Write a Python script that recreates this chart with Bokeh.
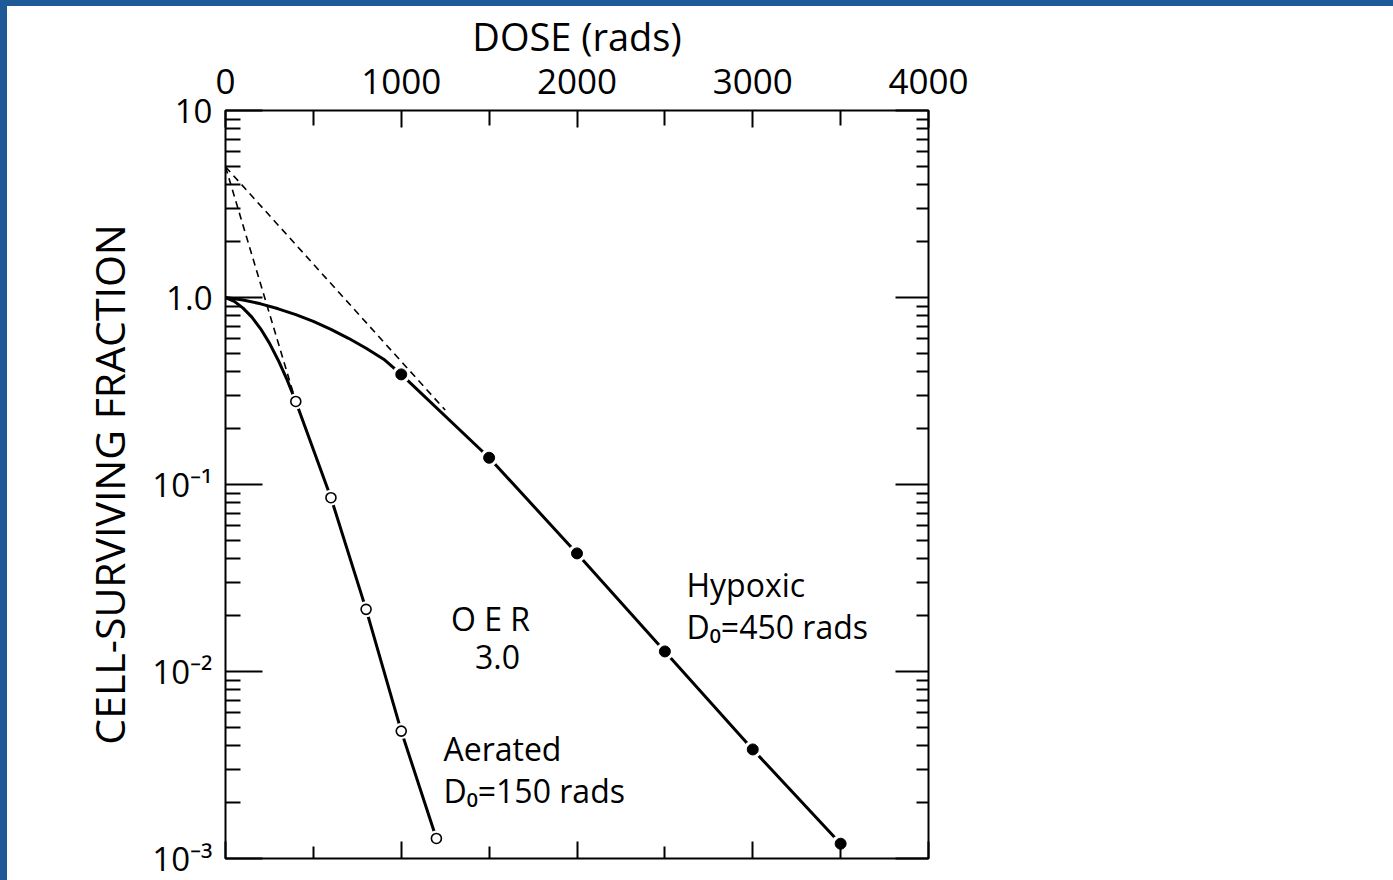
from bokeh.plotting import figure
from bokeh.models import (Range1d, LinearAxis, LogAxis, FixedTicker, Label, Div)
from bokeh.layouts import column, row
from bokeh.embed import file_html
from bokeh.resources import INLINE

# ---- data -------------------------------------------------------------
# measured surviving fractions
aerated_dose = [400, 600, 800, 1000, 1200]
aerated_surv = [0.278, 0.085, 0.0215, 0.0048, 0.00128]
hypoxic_dose = [1000, 1500, 2000, 2500, 3000, 3500]
hypoxic_surv = [0.388, 0.139, 0.0428, 0.0128, 0.00383, 0.0012]

# fitted survival curves (shoulder traced, then through the points)
aerated_curve_dose = [0, 50, 100, 150, 200, 250, 300, 350, 400,
                      600, 800, 1000, 1200]
aerated_curve_surv = [1.0, 0.953, 0.877, 0.785, 0.68, 0.57, 0.462, 0.364, 0.278,
                      0.085, 0.0215, 0.0048, 0.00128]
hypoxic_curve_dose = [0, 100, 200, 300, 400, 500, 600, 700, 800, 900, 1000,
                      1500, 2000, 2500, 3000, 3500]
hypoxic_curve_surv = [1.0, 0.97, 0.925, 0.87, 0.81, 0.745, 0.675, 0.605, 0.535, 0.468, 0.388,
                      0.139, 0.0428, 0.0128, 0.00383, 0.0012]

# back-extrapolation of the exponential parts
aerated_extrap_dose = [0, 400]
aerated_extrap_surv = [5.0, 0.278]
hypoxic_extrap_dose = [0, 1250]
hypoxic_extrap_surv = [5.0, 0.25]

# axes
x_tick_values = [0, 1000, 2000, 3000, 4000]
x_tick_labels = ["0", "1000", "2000", "3000", "4000"]
x_minor_values = [500, 1500, 2500, 3500]
y_tick_values = [0.001, 0.01, 0.1, 1.0, 10.0]
y_tick_labels = ["10\u207b\u00b3", "10\u207b\u00b2", "10\u207b\u00b9", "1.0", "10"]
y_minor_values = [m * d for d in (0.001, 0.01, 0.1, 1.0) for m in range(2, 10)]

FONT = "Open Sans"
INK = "black"

p = figure(frame_width=703, frame_height=748,
           x_range=Range1d(0, 4000), y_range=Range1d(0.001, 10),
           y_axis_type="log", x_axis_location="above",
           output_backend="svg", toolbar_location=None,
           min_border_left=218, min_border_right=465,
           min_border_top=104, min_border_bottom=22,
           background_fill_color="white", border_fill_color="white",
           outline_line_color=INK, outline_line_width=2)
p.grid.visible = False


def style_axis(ax, major_in, minor_in):
    ax.major_tick_in = major_in
    ax.major_tick_out = 0
    ax.minor_tick_in = minor_in
    ax.minor_tick_out = 0
    ax.major_tick_line_color = INK
    ax.minor_tick_line_color = INK
    ax.major_tick_line_width = 2
    ax.minor_tick_line_width = 2
    ax.axis_line_color = None
    ax.major_label_text_font = FONT
    ax.major_label_text_color = INK
    ax.axis_label_text_font = FONT
    ax.axis_label_text_font_style = "normal"
    ax.axis_label_text_color = INK


# top axis: dose
top = p.xaxis[0]
top.ticker = FixedTicker(ticks=x_tick_values, minor_ticks=x_minor_values)
style_axis(top, 17, 15)
top.major_label_overrides = dict(zip(x_tick_values, x_tick_labels))
top.major_label_text_font_size = "35px"
top.major_label_standoff = 17
top.axis_label = "DOSE (rads)"
top.axis_label_text_font_size = "38px"
top.axis_label_standoff = 4

# left axis: surviving fraction
left = p.yaxis[0]
left.ticker = FixedTicker(ticks=y_tick_values, minor_ticks=y_minor_values)
style_axis(left, 37, 15)
left.major_label_overrides = dict(zip(y_tick_values, y_tick_labels))
left.major_label_text_font_size = "33px"
left.major_label_standoff = 13
left.axis_label = "CELL-SURVIVING FRACTION"
left.axis_label_text_font_size = "41px"
left.axis_label_standoff = 12

# bottom and right: ticks only
bottom = LinearAxis(ticker=FixedTicker(ticks=x_tick_values, minor_ticks=x_minor_values))
style_axis(bottom, 17, 12)
bottom.major_label_overrides = {v: "" for v in x_tick_values}
p.add_layout(bottom, "below")

right = LogAxis(ticker=FixedTicker(ticks=y_tick_values, minor_ticks=y_minor_values))
style_axis(right, 33, 12)
right.major_label_overrides = {v: "" for v in y_tick_values}
p.add_layout(right, "right")

# ---- curves -----------------------------------------------------------
p.line(aerated_curve_dose, aerated_curve_surv, line_color=INK, line_width=3)
p.line(hypoxic_curve_dose, hypoxic_curve_surv, line_color=INK, line_width=3)

# white halos break the curves around each point
p.scatter(aerated_dose, aerated_surv, size=16, fill_color="white", line_color=None)
p.scatter(hypoxic_dose, hypoxic_surv, size=18, fill_color="white", line_color=None)

p.line(aerated_extrap_dose, aerated_extrap_surv, line_color=INK, line_width=1.6,
       line_dash="7 5")
p.line(hypoxic_extrap_dose, hypoxic_extrap_surv, line_color=INK, line_width=1.6,
       line_dash="7 5")

p.scatter(aerated_dose, aerated_surv, size=10, fill_color="white",
          line_color=INK, line_width=1.6)
p.scatter(hypoxic_dose, hypoxic_surv, size=11, fill_color=INK, line_color=INK)

# ---- annotations ------------------------------------------------------
def note(x, y, text, align="left"):
    p.add_layout(Label(x=x, y=y, text=text, text_font=FONT,
                       text_font_size="32px", text_color=INK,
                       text_align=align, text_baseline="middle"))


note(1508, 0.0192, "O E R", "center")
note(1548, 0.0119, "3.0", "center")
note(2623, 0.0292, "Hypoxic")
note(2623, 0.0174, "D\u2080=450 rads")
note(1240, 0.00387, "Aerated")
note(1240, 0.00231, "D\u2080=150 rads")

# ---- page -------------------------------------------------------------
BAND = "#1f5a98"
top_band = Div(width=1393, height=6, margin=0, styles={"background-color": BAND})
left_band = Div(width=7, height=874, margin=0, styles={"background-color": BAND})
page = column(top_band, row(left_band, p, spacing=0), spacing=0)

open("out.html", "w").write(file_html(page, INLINE))
